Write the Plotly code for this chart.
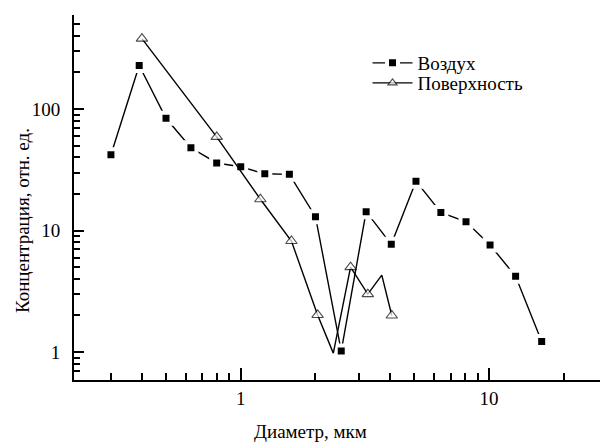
import math
import plotly.graph_objects as go

# ---- data ----
air_x = [0.3, 0.39, 0.5, 0.63, 0.8, 1.0, 1.25, 1.57, 2.0, 2.54, 3.2, 4.04, 5.08, 6.4, 8.08, 10.1, 12.8, 16.3]
air_y = [42, 228, 84, 48, 36, 33.5, 29.3, 29, 13, 1.02, 14.3, 7.7, 25.5, 14.1, 11.8, 7.6, 4.2, 1.22]

surf_x = [0.4, 0.8, 1.2, 1.6, 2.04, 2.36, 2.77, 3.25, 3.7, 4.06]
surf_y = [380, 59, 18.1, 8.2, 2.02, 0.98, 5.0, 3.0, 4.3, 2.0]
surf_has_marker = [True, True, True, True, True, False, True, True, False, True]

series_names = ["Воздух", "Поверхность"]

x_major = [1, 10]
x_major_text = ["1", "10"]
x_minor = [0.3, 0.4, 0.5, 0.6, 0.7, 0.8, 0.9, 2, 3, 4, 5, 6, 7, 8, 9, 20]

y_major = [1, 10, 100]
y_major_text = ["1", "10", "100"]
y_minor = [0.7, 0.8, 0.9, 2, 3, 4, 5, 6, 7, 8, 9, 20, 30, 40, 50, 60, 70, 80, 90, 200, 300, 400, 500]

FONT = "Liberation Serif"

fig = go.Figure()

fig.add_trace(go.Scatter(
    x=air_x, y=air_y, name=series_names[0], mode="lines+markers",
    line=dict(color="black", width=1.4),
    marker=dict(symbol="square", size=11, color="black",
                line=dict(color="white", width=4)),
    legend="legend",
))

fig.add_trace(go.Scatter(
    x=surf_x, y=surf_y, name=series_names[1], mode="lines+markers",
    line=dict(color="black", width=1.4),
    marker=dict(symbol="triangle-up", size=[10 if m else 0 for m in surf_has_marker],
                color="white", line=dict(color="black", width=1.1)),
    legend="legend2",
))

axis_common = dict(
    type="log", automargin=False,
    showgrid=False, zeroline=False,
    showline=True, linecolor="black", linewidth=2,
    ticks="inside", tickcolor="black", tickwidth=2,
    tickmode="array",
    tickfont=dict(family=FONT, size=19, color="black"),
)

fig.update_xaxes(
    **axis_common,
    range=[math.log10(0.213), math.log10(28)],
    tickvals=x_major, ticktext=x_major_text, ticklen=12,
    ticklabelstandoff=0,
    minor=dict(tickmode="array", tickvals=x_minor, ticks="inside",
               ticklen=7, tickwidth=2, tickcolor="black", showgrid=False),
)
fig.update_yaxes(
    **axis_common,
    range=[-0.23, 2.774],
    tickvals=y_major, ticktext=y_major_text, ticklen=10,
    ticklabelstandoff=8,
    minor=dict(tickmode="array", tickvals=y_minor, ticks="inside",
               ticklen=6, tickwidth=2, tickcolor="black", showgrid=False),
)

fig.add_annotation(
    text="Концентрация, отн. ед.", xref="paper", yref="paper",
    x=-0.099, y=0.438, textangle=-90, showarrow=False,
    xanchor="center", yanchor="middle",
    font=dict(family=FONT, size=19, color="black"),
)
fig.add_annotation(
    text="Диаметр, мкм", xref="paper", yref="paper",
    x=0.449, y=-0.14, showarrow=False,
    xanchor="center", yanchor="middle",
    font=dict(family=FONT, size=19, color="black"),
)

legend_common = dict(
    xanchor="left", yanchor="middle",
    bgcolor="rgba(0,0,0,0)", borderwidth=0,
    font=dict(family=FONT, size=19, color="black"),
    itemwidth=40,
)

fig.update_layout(
    template="none",
    width=601, height=443,
    margin=dict(l=74, r=1, t=15, b=63, autoexpand=False),
    paper_bgcolor="white", plot_bgcolor="white",
    showlegend=True,
    legend=dict(x=0.558, y=0.8685, **legend_common),
    legend2=dict(x=0.558, y=0.8137, **legend_common),
    font=dict(family=FONT, color="black"),
)

fig.write_html("out.html",
               config={"displayModeBar": False},
               post_script="document.body.style.margin='0';document.body.style.padding='0';")
